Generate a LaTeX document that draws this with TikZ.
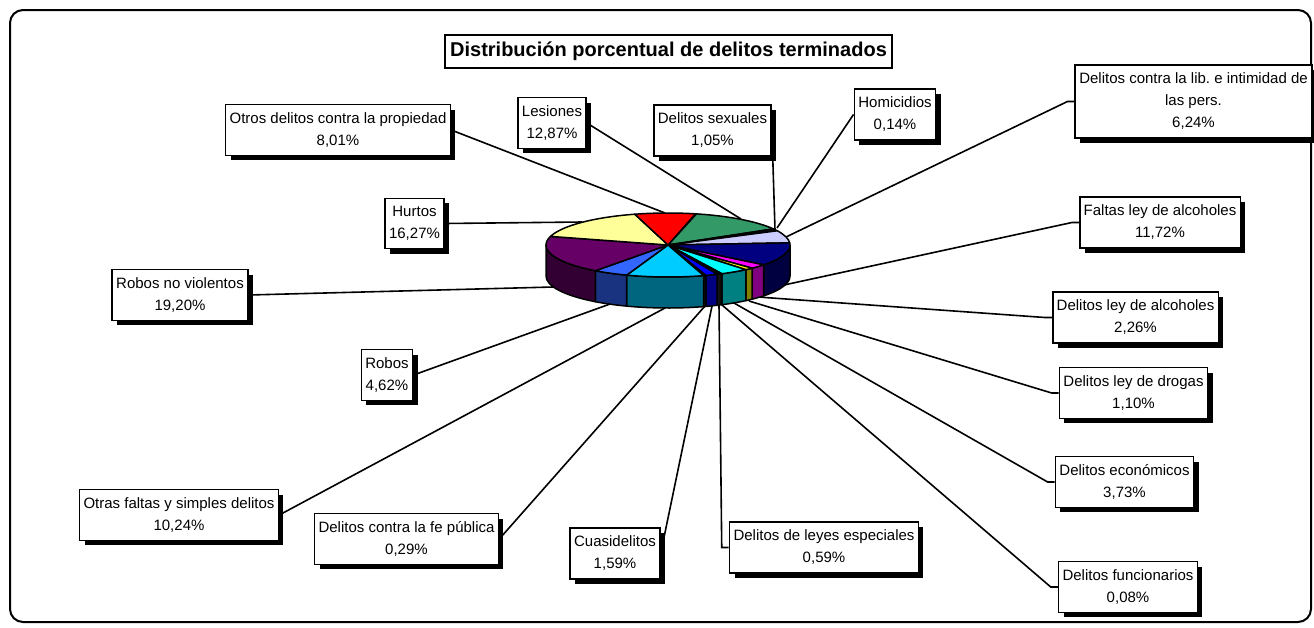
\documentclass[tikz,border=0pt]{standalone}
\usepackage{fontspec}
\setmainfont{Liberation Sans}
\usetikzlibrary{shadows}

% slice colours: t = top face, s = side
\definecolor{tRed}{HTML}{FF0000}
\definecolor{tGreen}{HTML}{339966}
\definecolor{tLavender}{HTML}{CCCCFF}
\definecolor{tNavy}{HTML}{000080}
\definecolor{sNavy}{HTML}{000040}
\definecolor{tMagenta}{HTML}{FF00FF}
\definecolor{sMagenta}{HTML}{800080}
\definecolor{tYellow}{HTML}{FFFF00}
\definecolor{sYellow}{HTML}{808000}
\definecolor{tCyan}{HTML}{00FFFF}
\definecolor{sCyan}{HTML}{008080}
\definecolor{tBlue}{HTML}{0000FF}
\definecolor{sBlue}{HTML}{000080}
\definecolor{tSky}{HTML}{00CCFF}
\definecolor{sSky}{HTML}{006680}
\definecolor{tRoyal}{HTML}{3366FF}
\definecolor{sRoyal}{HTML}{1A3380}
\definecolor{tPlum}{HTML}{660066}
\definecolor{sPlum}{HTML}{330033}
\definecolor{tCream}{HTML}{FFFF99}
\definecolor{tDark}{HTML}{111111}

\begin{document}
\begin{tikzpicture}
[x=1pt,y=1pt,
 lbl/.style={draw=black,fill=white,line width=1.6pt,align=center,
   inner xsep=4pt,inner ysep=8pt,font=\fontsize{15}{22}\selectfont\frenchspacing,
   drop shadow={shadow xshift=5pt,shadow yshift=-5pt,fill=black,opacity=1}},
 lead/.style={line width=1.6pt},
 slice/.style={draw=black,line width=1.5pt,line join=round}]

\useasboundingbox (0,0) rectangle (1314,-627);
\draw[line width=2pt,rounded corners=13pt] (10,-10) rectangle (1311,-622);

\node[draw,line width=1.6pt,inner xsep=5pt,minimum height=33pt,
  font=\bfseries\fontsize{20}{24}\selectfont] (title) at (668.5,-51.5)
  {Distribución porcentual de delitos terminados};

% labels
\node[lbl] (otrosprop) at (338,-130) {Otros delitos contra la propiedad\\8,01\%};
\node[lbl] (lesiones) at (552,-123) {Lesiones\\12,87\%};
\node[lbl] (sexuales) at (712.5,-130.5) {Delitos sexuales\\1,05\%};
\node[lbl] (homicidios) at (895,-114.5) {Homicidios\\0,14\%};
\node[lbl] (libertad) at (1193.5,-101.5) {Delitos contra la lib. e intimidad de\\las pers.\\6,24\%};
\node[lbl] (faltasalc) at (1160,-222.5) {Faltas ley de alcoholes\\11,72\%};
\node[lbl] (leyalc) at (1135.5,-317.5) {Delitos ley de alcoholes\\2,26\%};
\node[lbl] (drogas) at (1133.5,-393) {Delitos ley de drogas\\1,10\%};
\node[lbl] (economicos) at (1124.5,-482) {Delitos económicos\\3,73\%};
\node[lbl] (funcionarios) at (1128,-587) {Delitos funcionarios\\0,08\%};
\node[lbl] (leyesesp) at (824,-547.5) {Delitos de leyes especiales\\0,59\%};
\node[lbl] (cuasi) at (615,-553.5) {Cuasidelitos\\1,59\%};
\node[lbl] (fe) at (406.5,-539) {Delitos contra la fe pública\\0,29\%};
\node[lbl] (otrasfaltas) at (179,-515) {Otras faltas y simples delitos\\10,24\%};
\node[lbl] (robos) at (387,-375) {Robos\\4,62\%};
\node[lbl] (robosnv) at (180,-295) {Robos no violentos\\19,20\%};
\node[lbl] (hurtos) at (414.5,-223.5) {Hurtos\\16,27\%};

% leader ends on the pie
\coordinate (eHomicidios) at (777,-228);
\coordinate (eLesiones) at (741,-219);
\coordinate (eSexuales) at (775,-230);
\coordinate (eLibertad) at (786,-237);
\coordinate (eFaltasAlc) at (784,-285);
\coordinate (eLeyAlc) at (758,-297);
\coordinate (eDrogas) at (749,-301);
\coordinate (eEconomicos) at (734,-303);
\coordinate (eFuncionarios) at (722,-305);
\coordinate (eLeyesEsp) at (719,-305);
\coordinate (eCuasi) at (712,-306);
\coordinate (eFe) at (705,-306);
\coordinate (eOtrasFaltas) at (665,-308);
\coordinate (eRobos) at (610,-304);
\coordinate (eRobosNV) at (553,-287);
\coordinate (eHurtos) at (582,-222);
\coordinate (eOtrosProp) at (665,-213);

\draw[lead] (otrosprop.east) -- (eOtrosProp);
\draw[lead] (lesiones.east) -- (eLesiones);
\draw[lead] (sexuales.east) -- (eSexuales);
\draw[lead] (homicidios.west) -- (eHomicidios);
\draw[lead] (libertad.west) -- ++(-7,0) -- (eLibertad);
\draw[lead] (faltasalc.west) -- ++(-7,0) -- (eFaltasAlc);
\draw[lead] (leyalc.west) -- ++(-7,0) -- (eLeyAlc);
\draw[lead] (drogas.west) -- ++(-7,0) -- (eDrogas);
\draw[lead] (economicos.west) -- ++(-7,0) -- (eEconomicos);
\draw[lead] (funcionarios.west) -- ++(-7,0) -- (eFuncionarios);
\draw[lead] (leyesesp.west) -- ++(-7,0) -- (eLeyesEsp);
\draw[lead] (cuasi.east) -- (eCuasi);
\draw[lead] (fe.east) -- (eFe);
\draw[lead] (otrasfaltas.east) -- (eOtrasFaltas);
\draw[lead] (robos.east) -- (eRobos);
\draw[lead] (robosnv.east) -- (eRobosNV);
\draw[lead] (hurtos.east) -- (eHurtos);

% pie: sides of the front slices
\foreach \hi/\lo/\col in {0/-38.3/sNavy,-38.3/-46.4/sMagenta,-46.4/-50.4/sYellow,
    -50.4/-63.8/sCyan,-63.8/-64.1/tDark,-64.1/-66.2/tDark,-66.2/-71.9/sBlue,
    -71.9/-73/tDark,-73/-109.8/sSky,-109.8/-126.5/sRoyal,-126.5/-180/sPlum}
  \filldraw[slice,fill=\col] ({668+122*cos(\hi)},{-245+32*sin(\hi)})
    arc[start angle=\hi,end angle=\lo,x radius=122,y radius=32] -- ++(0,-31)
    arc[start angle=\lo,end angle=\hi,x radius=122,y radius=32] -- cycle;

% pie: top faces
\foreach \s/\e/\col in {77/76.5/tDark,76.5/30.2/tGreen,30.2/26.4/tDark,
    26.4/3.9/tLavender,3.9/-38.3/tNavy,-38.3/-46.4/tMagenta,-46.4/-50.4/tYellow,
    -50.4/-63.8/tCyan,-63.8/-64.1/tDark,-64.1/-66.2/tDark,-66.2/-71.9/tBlue,
    -71.9/-73/tDark,-73/-109.8/tSky,-109.8/-126.5/tRoyal,-126.5/-195.6/tPlum,
    -195.6/-254.2/tCream,-254.2/-283/tRed}
  \filldraw[slice,fill=\col] (668,-245) -- ({668+122*cos(\s)},{-245+32*sin(\s)})
    arc[start angle=\s,end angle=\e,x radius=122,y radius=32] -- cycle;
\end{tikzpicture}
\end{document}
